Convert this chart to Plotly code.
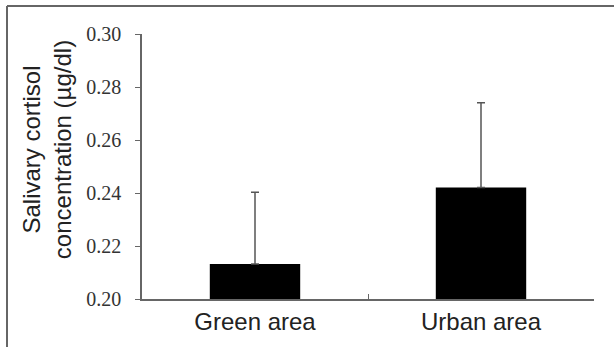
import plotly.graph_objects as go

categories = ["Green area", "Urban area"]
means = [0.2132, 0.2421]
sd_upper = [0.0271, 0.0320]
y_ticks = [0.20, 0.22, 0.24, 0.26, 0.28, 0.30]
y_tick_labels = ["0.20", "0.22", "0.24", "0.26", "0.28", "0.30"]

fig = go.Figure()
fig.add_trace(go.Bar(
    x=categories, y=means, base=0,
    marker=dict(color="#000000", line=dict(width=0)),
    error_y=dict(type="data", array=sd_upper, symmetric=False, arrayminus=[0, 0],
                 color="#555555", thickness=1.5, width=4),
))

px_w, px_h = 452, 265
left_x = (7 - 142) / px_w
top_y = (299 - 6) / px_h
bottom_y = (299 - 347) / px_h
right_x = (614 - 142) / px_w

fig.update_layout(
    width=614, height=347,
    margin=dict(l=142, r=20, t=34, b=48),
    paper_bgcolor="white", plot_bgcolor="white",
    showlegend=False, bargap=0.6,
    font=dict(family="Liberation Sans, Arial, sans-serif", color="#222222"),
    xaxis=dict(
        showline=True, linecolor="#666666", linewidth=1.5,
        ticks="inside", tickson="boundaries", ticklen=5, tickcolor="#666666",
        tickfont=dict(size=24, family="Liberation Sans, Arial, sans-serif", color="#222222"),
        showgrid=False, zeroline=False,
    ),
    yaxis=dict(
        range=[0.2, 0.3], tickvals=y_ticks, ticktext=y_tick_labels,
        showline=True, linecolor="#666666", linewidth=1.5,
        ticks="outside", ticklen=5, tickcolor="#666666",
        tickfont=dict(size=20, family="Liberation Serif, Times New Roman, serif", color="#333333"),
        ticklabelstandoff=10,
        showgrid=False, zeroline=False,
    ),
    annotations=[dict(
        text="Salivary cortisol<br>concentration (µg/dl)",
        xref="paper", yref="paper", x=-0.21, y=0.562,
        xanchor="center", yanchor="middle", textangle=-90, showarrow=False,
        font=dict(size=24, family="Liberation Sans, Arial, sans-serif", color="#222222"),
    )],
    shapes=[
        dict(type="line", xref="paper", yref="paper", x0=left_x, x1=left_x, y0=bottom_y, y1=top_y,
             line=dict(color="#666666", width=2)),
        dict(type="line", xref="paper", yref="paper", x0=left_x, x1=right_x, y0=top_y, y1=top_y,
             line=dict(color="#666666", width=2)),
    ],
)

fig.write_html("out.html", config={"displayModeBar": False},
               post_script="document.body.style.margin='0';document.body.style.overflow='hidden';")
